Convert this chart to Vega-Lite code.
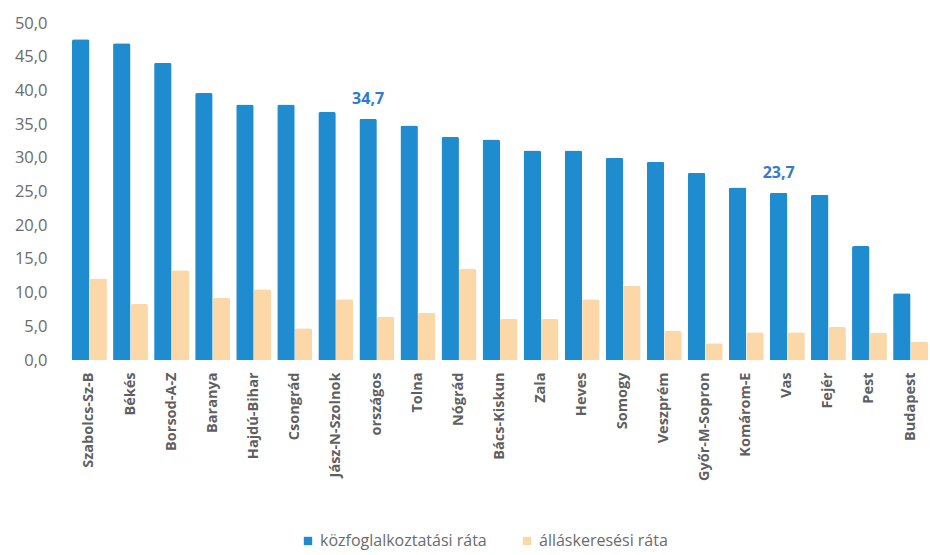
{
  "$schema": "https://vega.github.io/schema/vega-lite/v6.json",
  "autosize": {"type": "none"},
  "padding": {"left": 72, "top": 23, "right": 2, "bottom": 195},
  "width": 856,
  "height": 337,
  "config": {"view": {"stroke": null}, "font": "Open Sans"},
  "data": {"values": [
    {"megye": "Szabolcs-Sz-B", "sorozat": "közfoglalkoztatási ráta", "ertek": 47.6},
    {"megye": "Szabolcs-Sz-B", "sorozat": "álláskeresési ráta", "ertek": 12.1},
    {"megye": "Békés", "sorozat": "közfoglalkoztatási ráta", "ertek": 47.0},
    {"megye": "Békés", "sorozat": "álláskeresési ráta", "ertek": 8.3},
    {"megye": "Borsod-A-Z", "sorozat": "közfoglalkoztatási ráta", "ertek": 44.1},
    {"megye": "Borsod-A-Z", "sorozat": "álláskeresési ráta", "ertek": 13.3},
    {"megye": "Baranya", "sorozat": "közfoglalkoztatási ráta", "ertek": 39.6},
    {"megye": "Baranya", "sorozat": "álláskeresési ráta", "ertek": 9.2},
    {"megye": "Hajdú-Bihar", "sorozat": "közfoglalkoztatási ráta", "ertek": 37.9},
    {"megye": "Hajdú-Bihar", "sorozat": "álláskeresési ráta", "ertek": 10.5},
    {"megye": "Csongrád", "sorozat": "közfoglalkoztatási ráta", "ertek": 37.9},
    {"megye": "Csongrád", "sorozat": "álláskeresési ráta", "ertek": 4.7},
    {"megye": "Jász-N-Szolnok", "sorozat": "közfoglalkoztatási ráta", "ertek": 36.8},
    {"megye": "Jász-N-Szolnok", "sorozat": "álláskeresési ráta", "ertek": 9.0},
    {"megye": "országos", "sorozat": "közfoglalkoztatási ráta", "ertek": 35.8, "cimke": "34,7"},
    {"megye": "országos", "sorozat": "álláskeresési ráta", "ertek": 6.4},
    {"megye": "Tolna", "sorozat": "közfoglalkoztatási ráta", "ertek": 34.8},
    {"megye": "Tolna", "sorozat": "álláskeresési ráta", "ertek": 7.0},
    {"megye": "Nógrád", "sorozat": "közfoglalkoztatási ráta", "ertek": 33.1},
    {"megye": "Nógrád", "sorozat": "álláskeresési ráta", "ertek": 13.5},
    {"megye": "Bács-Kiskun", "sorozat": "közfoglalkoztatási ráta", "ertek": 32.7},
    {"megye": "Bács-Kiskun", "sorozat": "álláskeresési ráta", "ertek": 6.1},
    {"megye": "Zala", "sorozat": "közfoglalkoztatási ráta", "ertek": 31.1},
    {"megye": "Zala", "sorozat": "álláskeresési ráta", "ertek": 6.1},
    {"megye": "Heves", "sorozat": "közfoglalkoztatási ráta", "ertek": 31.1},
    {"megye": "Heves", "sorozat": "álláskeresési ráta", "ertek": 9.0},
    {"megye": "Somogy", "sorozat": "közfoglalkoztatási ráta", "ertek": 30.0},
    {"megye": "Somogy", "sorozat": "álláskeresési ráta", "ertek": 11.0},
    {"megye": "Veszprém", "sorozat": "közfoglalkoztatási ráta", "ertek": 29.4},
    {"megye": "Veszprém", "sorozat": "álláskeresési ráta", "ertek": 4.3},
    {"megye": "Győr-M-Sopron", "sorozat": "közfoglalkoztatási ráta", "ertek": 27.8},
    {"megye": "Győr-M-Sopron", "sorozat": "álláskeresési ráta", "ertek": 2.5},
    {"megye": "Komárom-E", "sorozat": "közfoglalkoztatási ráta", "ertek": 25.6},
    {"megye": "Komárom-E", "sorozat": "álláskeresési ráta", "ertek": 4.1},
    {"megye": "Vas", "sorozat": "közfoglalkoztatási ráta", "ertek": 24.8, "cimke": "23,7"},
    {"megye": "Vas", "sorozat": "álláskeresési ráta", "ertek": 4.1},
    {"megye": "Fejér", "sorozat": "közfoglalkoztatási ráta", "ertek": 24.5},
    {"megye": "Fejér", "sorozat": "álláskeresési ráta", "ertek": 4.9},
    {"megye": "Pest", "sorozat": "közfoglalkoztatási ráta", "ertek": 16.9},
    {"megye": "Pest", "sorozat": "álláskeresési ráta", "ertek": 4.0},
    {"megye": "Budapest", "sorozat": "közfoglalkoztatási ráta", "ertek": 9.9},
    {"megye": "Budapest", "sorozat": "álláskeresési ráta", "ertek": 2.7}
  ]},
  "encoding": {
    "x": {
      "field": "megye", "type": "nominal", "sort": null,
      "scale": {"paddingInner": 0.15, "paddingOuter": -0.05},
      "axis": {
        "title": null, "labelAngle": -90, "labelColor": "#5f5f5f", "labelFontSize": 14.5,
        "labelFontWeight": "bold", "domain": false, "ticks": false, "labelPadding": 12
      }
    },
    "xOffset": {"field": "sorozat", "type": "nominal", "sort": ["közfoglalkoztatási ráta", "álláskeresési ráta"]},
    "y": {
      "field": "ertek", "type": "quantitative",
      "scale": {"domain": [0, 50]},
      "axis": {
        "title": null, "values": [0, 5, 10, 15, 20, 25, 30, 35, 40, 45, 50],
        "labelExpr": "replace(format(datum.value, '.1f'), '.', ',')",
        "labelColor": "#6b6b6b", "labelFontSize": 16.5, "grid": false, "domain": false,
        "ticks": false, "labelPadding": 25
      }
    }
  },
  "layer": [
    {
      "mark": {"type": "bar", "cornerRadiusTopLeft": 2, "cornerRadiusTopRight": 2},
      "encoding": {
        "color": {
          "field": "sorozat", "type": "nominal",
          "scale": {"domain": ["közfoglalkoztatási ráta", "álláskeresési ráta"], "range": ["#1f8ccf", "#fcd8a8"]},
          "legend": {
            "title": null, "orient": "none", "direction": "horizontal", "legendX": 228, "legendY": 510,
            "symbolType": "square", "symbolSize": 70, "labelColor": "#6b6b6b", "labelFontSize": 16,
            "labelLimit": 400, "columnPadding": 32
          }
        }
      }
    },
    {
      "transform": [{"filter": "datum.cimke != null"}],
      "mark": {"type": "text", "dy": -20, "fontSize": 16, "fontWeight": "bold", "color": "#2e7bd0"},
      "encoding": {"text": {"field": "cimke"}}
    }
  ]
}
